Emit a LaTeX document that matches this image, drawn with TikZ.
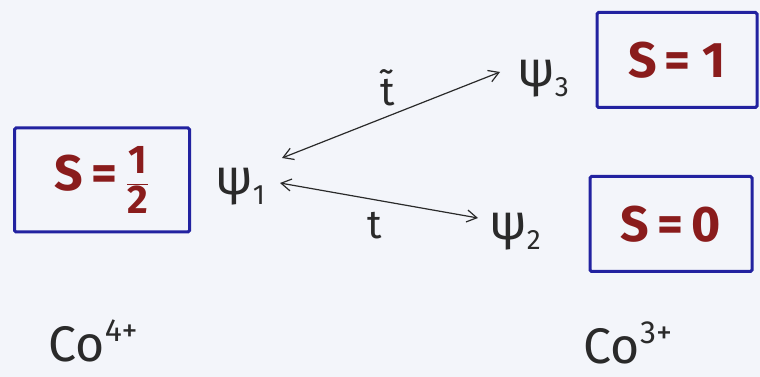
\documentclass[tikz,border=0pt]{standalone}
\usepackage{fontspec}
\setmainfont{Fira Sans}
\usetikzlibrary{arrows.meta}
\definecolor{bgc}{HTML}{F3F5FA}
\definecolor{boxblue}{HTML}{2222A0}
\definecolor{spinred}{HTML}{8A1C1C}
\definecolor{ink}{HTML}{2A2A2A}
\newcommand{\psisub}[1]{ψ\raisebox{-0.35ex}{\fontsize{28}{30}\selectfont #1}}
\newcommand{\ionsup}[1]{\raisebox{0.75ex}{\fontsize{32}{34}\selectfont #1}}
\begin{document}
\begin{tikzpicture}[x=1pt,y=1pt,
  spinbox/.style={draw=boxblue,line width=3pt,rounded corners=1.5pt,text=spinred,inner sep=0pt,font=\fontsize{50}{54}\selectfont\bfseries},
  state/.style={text=ink,inner sep=0pt,font=\fontsize{50}{54}\selectfont},
  hop/.style={draw=ink,line width=1.2pt,{Straight Barb[length=10pt,width=12pt]}-{Straight Barb[length=10pt,width=12pt]}},
  hoplabel/.style={text=ink,inner sep=0pt,font=\fontsize{40}{44}\selectfont},
  ion/.style={text=ink,inner sep=0pt,font=\fontsize{50}{54}\selectfont}]
\fill[bgc] (0,0) rectangle (760,377);
\useasboundingbox (0,0) rectangle (760,377);
\node[spinbox,minimum width=175pt,minimum height=104pt] (half) at (102,197) {S\,=\,$\displaystyle\frac{\hbox{\fontsize{40}{42}\selectfont\bfseries 1}}{\hbox{\fontsize{40}{42}\selectfont\bfseries 2}}$};
\node[spinbox,minimum width=160pt,minimum height=95pt] (one) at (677,317) {S\,=\ 1};
\node[spinbox,minimum width=162pt,minimum height=95pt] (zero) at (671,153) {S\,=\,0};
\node[state] (psi1) at (240,190) {\psisub{1}};
\node[state] (psi3) at (543,298) {\psisub{3}};
\node[state] (psi2) at (515,145) {\psisub{2}};
\draw[hop] ([shift={(42,29)}]psi1.center) -- ([shift={(-43,7)}]psi3.center);
\draw[hop] ([shift={(40,4)}]psi1.center) -- ([shift={(-37,14)}]psi2.center);
\node[hoplabel] (tt) at (388,289) {\~{t}};
\node[hoplabel] (t) at (375,151) {t};
\node[ion] (co4) at (93,36) {Co\ionsup{4+}};
\node[ion] (co3) at (628,34) {Co\ionsup{3+}};
\end{tikzpicture}
\end{document}
